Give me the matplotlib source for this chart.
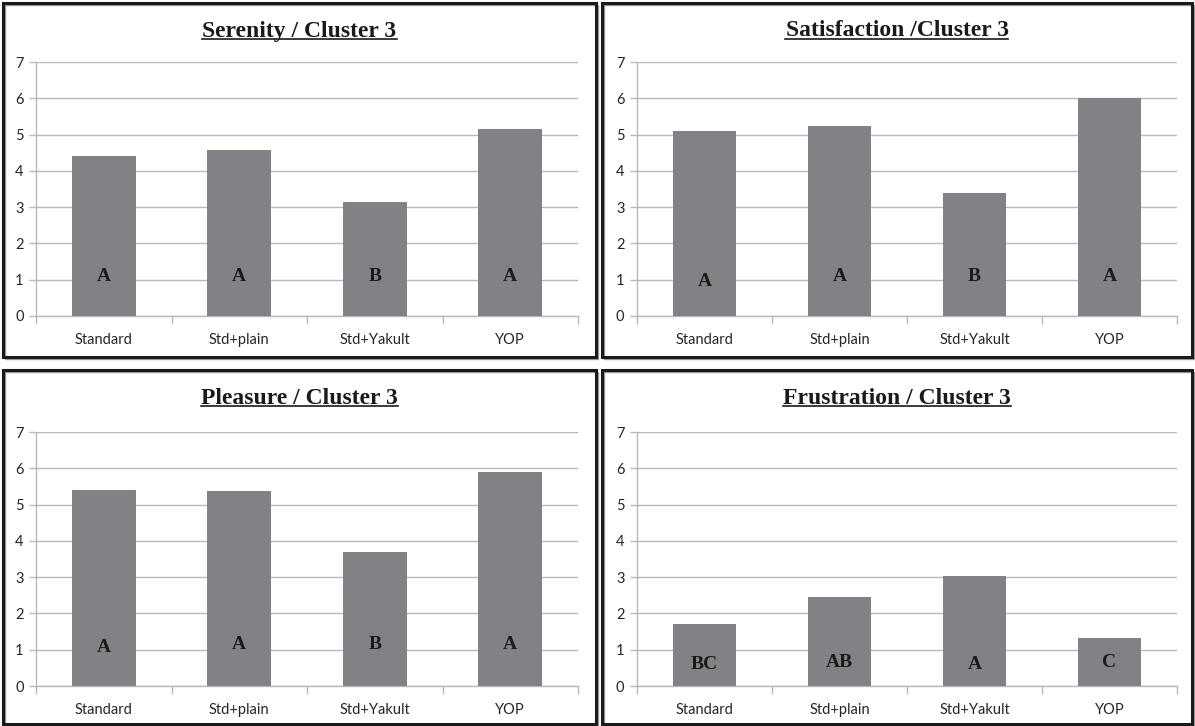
import matplotlib
matplotlib.use("Agg")
import matplotlib.pyplot as plt
from matplotlib.patches import Rectangle
from matplotlib.lines import Line2D
import numpy as np

categories = ["Standard", "Std+plain", "Std+Yakult", "YOP"]

titles = ["Serenity / Cluster 3", "Satisfaction /Cluster 3",
          "Pleasure / Cluster 3", "Frustration / Cluster 3"]

serenity = [4.40, 4.58, 3.14, 5.14]
satisfaction = [5.10, 5.25, 3.40, 6.00]
pleasure = [5.40, 5.38, 3.70, 5.90]
frustration = [1.72, 2.46, 3.03, 1.33]

serenity_groups = ["A", "A", "B", "A"]
satisfaction_groups = ["A", "A", "B", "A"]
pleasure_groups = ["A", "A", "B", "A"]
frustration_groups = ["BC", "AB", "A", "C"]

# letter heights (data units) as placed in the picture
serenity_lbl_y = [1.1, 1.1, 1.1, 1.1]
satisfaction_lbl_y = [0.95, 1.1, 1.1, 1.1]
pleasure_lbl_y = [1.05, 1.15, 1.15, 1.15]
frustration_lbl_y = [0.6, 0.65, 0.6, 0.65]

W, H = 1195, 726
fig = plt.figure(figsize=(W / 100, H / 100), dpi=100)
fig.patch.set_facecolor("white")


def px(x0, y0, x1, y1):
    # pixel box (top-left origin) -> figure fraction
    return [x0 / W, 1 - y1 / H, (x1 - x0) / W, (y1 - y0) / H]


panels = [
    # border box, plot box, title y
    ((3, 3, 596, 357), (36, 62, 578, 316), 30, serenity, serenity_groups, serenity_lbl_y),
    ((602, 3, 1192, 357), (637, 62, 1177, 316), 30, satisfaction, satisfaction_groups, satisfaction_lbl_y),
    ((3, 370, 596, 724), (36, 432, 578, 686), 397, pleasure, pleasure_groups, pleasure_lbl_y),
    ((602, 370, 1192, 724), (637, 432, 1177, 686), 397, frustration, frustration_groups, frustration_lbl_y),
]

bar_color = "#818286"
grid_color = "#b8b8b8"

renderer = fig.canvas.get_renderer()

for i, (border, box, ty, vals, groups, lbl_y) in enumerate(panels):
    # panel frame with a faint shadow
    bx0, by0, bx1, by1 = border
    fig.patches.append(Rectangle(((bx0 + 2) / W, 1 - (by1 + 2) / H), (bx1 - bx0) / W, (by1 - by0) / H,
                                 transform=fig.transFigure, fill=False,
                                 edgecolor="#9a9a9a", linewidth=1.0))
    fig.patches.append(Rectangle((bx0 / W, 1 - by1 / H), (bx1 - bx0) / W, (by1 - by0) / H,
                                 transform=fig.transFigure, fill=False,
                                 edgecolor="#1a1a1a", linewidth=2.2))

    ax = fig.add_axes(px(*box))
    x = np.arange(len(categories))
    ax.bar(x, vals, width=0.47, color=bar_color, zorder=3)
    for xi, g, ly in zip(x, groups, lbl_y):
        ax.text(xi, ly, g, ha="center", va="center", fontsize=14,
                fontweight="bold", family="Liberation Serif", color="#1a1a1a", zorder=4)

    ax.set_xlim(-0.5, 3.5)
    ax.set_ylim(0, 7)
    ax.set_yticks(range(8))
    ax.yaxis.grid(True, color=grid_color, linewidth=1.0, zorder=0)
    ax.set_axisbelow(True)
    ax.set_xticks(np.arange(-0.5, 4, 1))
    ax.set_xticklabels([])
    ax.set_xticks(x, minor=True)
    ax.set_xticklabels(categories, minor=True)
    ax.tick_params(axis="x", which="major", length=6, color=grid_color, width=1)
    ax.tick_params(axis="x", which="minor", length=0, pad=12)
    ax.tick_params(axis="y", length=5, color=grid_color, width=1, pad=4)
    for lab in ax.get_xticklabels(minor=True) + ax.get_yticklabels():
        lab.set_family("Lato")
        lab.set_fontsize(10.5)
        lab.set_color("#262626")
    for s in ["top", "right"]:
        ax.spines[s].set_visible(False)
    for s in ["left", "bottom"]:
        ax.spines[s].set_color(grid_color)
        ax.spines[s].set_linewidth(1)

    # title with underline
    cx = (bx0 + bx1) / 2 / W
    t = fig.text(cx, 1 - (ty + 1) / H, titles[i], ha="center", va="center",
                 fontsize=17, fontweight="bold", family="Liberation Serif", color="#1a1a1a")
    bb = t.get_window_extent(renderer=renderer).transformed(fig.transFigure.inverted())
    fig.lines.append(Line2D([bb.x0, bb.x1], [bb.y0 + 0.004, bb.y0 + 0.004],
                            transform=fig.transFigure, color="#1a1a1a", linewidth=1.2))

fig.savefig("out.png", dpi=100)
